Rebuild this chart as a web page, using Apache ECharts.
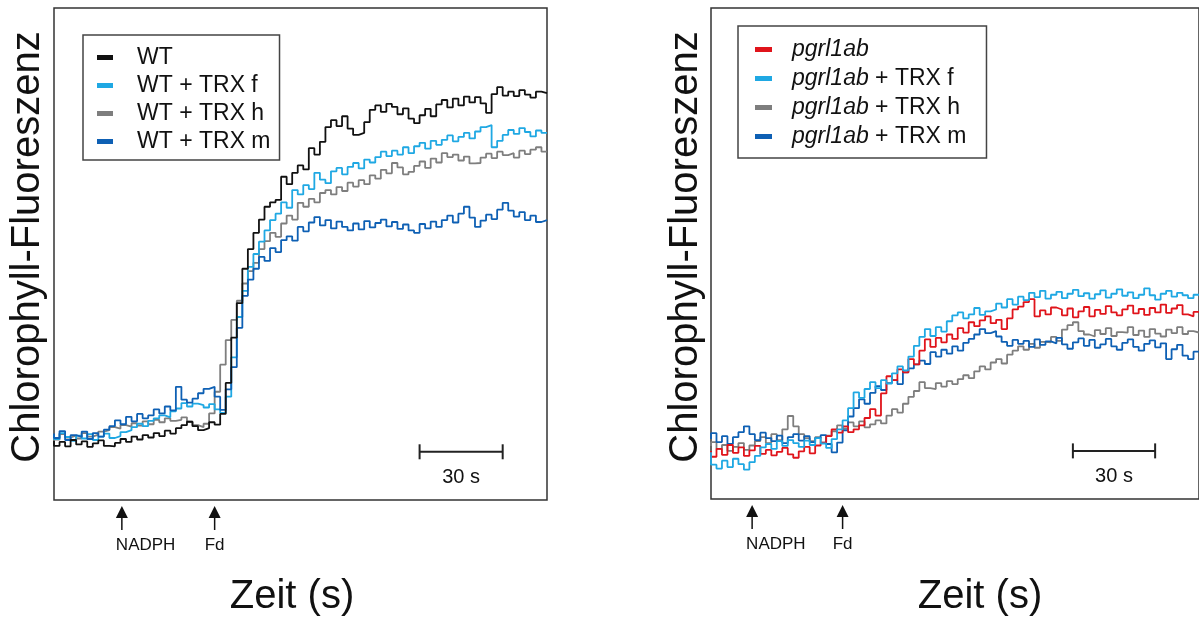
<!DOCTYPE html>
<html>
<head>
<meta charset="utf-8">
<script src="https://cdn.jsdelivr.net/npm/echarts@6/dist/echarts.min.js"></script>
<style>
html,body{margin:0;padding:0;background:#fff;}
#chart{width:1199px;height:621px;}
</style>
</head>
<body>
<div id="chart"></div>
<script>
// time (s), sampled every 2 s
const times = [0,2,4,6,8,10,12,14,16,18,20,22,24,26,28,30,32,34,36,38,40,42,44,46,48,50,52,54,56,58,60,62,64,66,68,70,72,74,76,78,80,82,84,86,88,90,92,94,96,98,100,102,104,106,108,110,112,114,116,118,120,122,124,126,128,130,132,134,136,138,140,142,144,146,148,150,152,154,156,158,160,162,164,166,168,170,172,174,176,178];

// left panel (relative fluorescence, a.u.)
const wt = [12.0,11.0,11.8,10.9,12.2,11.3,11.9,10.8,11.5,12.1,11.0,10.9,11.6,
  12.4,11.8,12.9,12.3,13.2,12.7,13.6,13.0,14.1,13.5,14.6,
  15.2,15.9,15.0,14.2,14.6,15.8,15.3,
  17.5,23.8,33.0,40.0,47.0,51.0,54.3,57.0,59.6,60.5,61.0,65.7,64.2,66.5,68.0,67.2,71.5,70.2,72.8,75.8,77.2,76.0,78.0,75.5,74.2,74.6,76.8,79.3,80.2,78.9,80.5,79.9,78.4,79.6,77.5,76.6,78.2,79.5,78.0,80.4,81.3,79.8,81.6,80.2,82.0,80.8,81.9,80.6,78.7,82.5,83.9,82.2,83.0,82.1,83.3,82.4,81.8,83.0,82.7];
const wtTrxF = [13.2,12.4,13.6,12.8,12.0,13.1,12.5,13.4,12.2,12.9,13.5,12.6,13.0,13.8,
  14.2,14.8,15.5,15.0,16.1,16.6,17.2,16.8,18.0,18.6,19.7,19.0,19.6,19.3,18.8,19.5,18.4,
  17.7,21.0,29.0,37.2,42.5,47.4,50.0,52.5,54.8,56.9,58.2,60.5,59.4,63.0,62.1,64.0,63.2,66.5,65.1,64.4,66.8,67.5,66.2,67.7,68.5,67.4,69.2,68.6,69.7,70.8,69.9,71.0,70.2,71.7,70.5,71.9,72.6,71.4,73.0,72.2,73.2,74.1,72.9,73.8,74.6,73.5,74.9,75.8,76.2,71.7,73.0,74.2,75.2,74.4,75.6,74.8,73.9,75.1,74.6];
const wtTrxH = [13.0,12.3,13.4,12.7,13.1,12.5,13.6,12.9,13.3,13.9,
  14.2,14.8,14.5,15.2,14.9,15.6,15.1,16.0,15.4,16.3,15.8,16.6,16.1,16.3,
  16.8,15.9,15.2,14.8,15.5,17.6,
  22.0,27.5,32.5,36.6,40.5,44.0,46.5,48.2,51.0,52.6,54.3,53.5,56.2,57.8,57.0,60.4,59.6,61.2,60.5,62.4,63.0,62.1,63.6,62.8,64.5,63.7,65.0,64.2,66.0,65.3,67.1,66.4,68.5,67.6,66.2,66.7,67.9,68.8,67.5,69.4,68.6,70.5,69.7,70.2,69.0,69.8,68.4,68.5,69.6,70.4,69.5,70.8,70.1,70.5,69.6,71.0,70.3,71.2,71.7,70.8];
const wtTrxM = [13.5,12.6,14.0,12.2,13.2,12.8,13.9,12.4,13.6,12.9,14.3,15.0,
  16.2,15.4,16.9,16.0,17.5,16.6,17.2,18.4,17.6,19.0,18.2,23.0,20.4,19.8,20.6,21.7,22.6,23.0,21.0,
  18.3,22.5,27.0,35.0,41.5,44.8,47.0,49.4,48.6,51.2,50.4,52.8,53.6,52.7,55.5,54.6,56.4,57.5,55.8,56.9,55.2,56.6,55.5,54.8,56.2,55.0,56.7,55.4,56.3,57.0,55.6,56.5,55.1,56.0,54.8,54.3,56.1,55.2,56.6,55.5,56.9,57.8,56.4,58.2,59.6,57.4,55.5,56.8,58.0,57.1,59.0,60.4,58.8,57.6,58.5,56.9,57.8,56.5,56.9];

// right panel
const pg = [9.8,8.6,10.2,9.0,11.0,9.4,10.5,8.8,9.9,10.8,9.2,10.0,8.9,9.6,10.4,9.1,8.4,9.7,10.6,9.3,10.9,11.5,12.8,
  14.2,13.5,14.8,13.6,14.2,15.0,16.5,18.3,
  17.0,21.5,25.0,24.2,26.4,25.8,28.5,27.4,30.2,32.5,31.0,32.8,31.9,33.5,32.6,34.8,33.9,36.0,35.2,36.4,37.2,35.8,36.5,34.6,36.8,38.6,39.2,40.1,40.7,37.2,38.4,37.6,39.0,38.6,37.4,38.8,37.0,38.2,39.1,37.2,38.5,37.7,39.3,38.0,37.4,38.6,39.4,37.8,38.7,37.5,38.9,38.0,39.6,37.9,38.8,39.5,37.6,37.2,38.1];
const pgTrxF = [9.5,7.0,6.2,7.8,6.5,8.2,7.1,6.0,7.5,8.8,
  10.5,11.2,10.2,11.8,10.8,12.0,11.4,10.6,11.9,11.0,12.4,11.3,10.4,12.2,
  14.2,16.0,18.5,21.7,20.6,22.4,23.8,
  22.6,24.2,23.5,25.6,27.0,26.2,29.0,31.2,33.0,34.6,33.2,35.0,34.1,36.2,37.4,38.0,36.8,37.6,38.9,37.5,38.2,38.6,39.8,39.0,40.7,39.6,41.2,40.5,42.0,41.1,42.4,40.8,41.6,42.2,40.9,41.8,42.6,41.3,41.9,40.8,41.7,42.5,41.0,41.8,42.7,41.4,42.1,40.9,41.6,42.9,41.5,40.6,41.8,42.4,41.2,42.0,41.5,40.9,41.6];
const pgTrxH = [10.8,11.6,10.2,11.0,9.8,10.6,11.4,10.0,10.9,11.8,12.6,11.4,13.2,12.0,
  14.2,16.9,14.8,13.2,
  12.4,11.8,12.6,11.5,12.9,13.8,
  15.0,14.4,15.6,14.8,15.8,14.6,15.2,16.0,15.4,17.0,
  18.3,17.6,19.4,20.8,22.0,23.8,22.6,22.4,23.6,22.9,24.0,23.4,24.4,25.2,24.6,26.0,27.0,26.4,27.8,28.5,27.6,29.4,30.2,31.1,30.4,31.6,30.8,32.0,31.9,33.0,32.2,34.5,35.4,36.0,34.2,33.5,33.1,34.4,33.6,34.8,33.2,34.0,33.9,35.0,33.4,34.3,33.0,34.6,33.7,33.1,34.5,33.8,35.0,33.6,34.2,33.9];
const pgTrxM = [12.2,13.4,11.6,12.8,11.2,12.6,13.6,14.8,13.2,12.0,13.5,12.4,
  11.8,12.9,11.4,12.6,13.2,11.9,12.8,11.6,12.4,13.0,11.2,9.5,
  11.5,14.0,16.8,18.5,20.3,19.4,21.6,
  23.0,22.2,23.6,24.2,23.4,25.8,26.6,27.4,28.2,27.5,29.9,29.0,30.4,29.6,31.1,30.2,31.8,32.6,33.5,34.6,33.8,34.2,33.1,32.0,31.2,32.4,31.6,32.2,31.0,32.5,31.4,32.1,31.7,32.8,31.5,30.6,31.9,32.7,31.2,32.4,30.8,31.5,32.6,31.1,30.4,31.8,32.5,31.0,30.2,31.6,32.3,30.9,31.7,28.5,30.5,31.4,29.2,28.5,30.0];

// annotations (time in s)
const leftEvents = [{name:'NADPH', t:24.5}, {name:'Fd', t:58}];
const rightEvents = [{name:'NADPH', t:15}, {name:'Fd', t:48}];
const scaleBar = [132, 162];   // 30 s
const scaleBarLevel = 9.8;
const scaleLabelLevel = 4.7;

const leftNames = ['WT','WT + TRX f','WT + TRX h','WT + TRX m'];
const rightNames = ['pgrl1ab','pgrl1ab + TRX f','pgrl1ab + TRX h','pgrl1ab + TRX m'];

const C = {black:'#111111', light:'#1FA8E3', gray:'#7E7E7E', dark:'#0E60B4', red:'#E0141B'};
const FONT = '"Liberation Sans", Arial, Helvetica, sans-serif';

function pts(vals){ return times.map((t,i)=>[t, vals[i]]); }
function trace(name, vals, color, idx){
  return {name, type:'line', xAxisIndex:idx, yAxisIndex:idx, data:pts(vals), step:'start',
    showSymbol:false, symbol:'none', silent:true, animation:false,
    lineStyle:{color, width:1.8}, itemStyle:{color}};
}
function bar(idx){
  return {type:'line', xAxisIndex:idx, yAxisIndex:idx, silent:true, animation:false,
    data:[[scaleBar[0], scaleBarLevel],[scaleBar[1], scaleBarLevel]],
    symbol:'rect', symbolSize:[2,15], showSymbol:true,
    lineStyle:{color:'#222', width:2}, itemStyle:{color:'#222'}};
}

const chart = echarts.init(document.getElementById('chart'), null, {renderer:'canvas'});
const option = {
  animation:false,
  backgroundColor:'#fff',
  textStyle:{fontFamily:FONT},
  grid:[
    {left:54, top:8, width:493, height:492, show:true, borderColor:'#333', borderWidth:1.5, backgroundColor:'transparent'},
    {left:711, top:8, width:493, height:491, show:true, borderColor:'#333', borderWidth:1.5, backgroundColor:'transparent'}
  ],
  xAxis:[
    {type:'value', gridIndex:0, min:0, max:178, show:false},
    {type:'value', gridIndex:1, min:0, max:178, show:false}
  ],
  yAxis:[
    {type:'value', gridIndex:0, min:0, max:100, show:false},
    {type:'value', gridIndex:1, min:0, max:100, show:false}
  ],
  legend:[
    {data:leftNames, orient:'vertical', left:83, top:35, selectedMode:false,
     icon:'rect', itemWidth:16, itemHeight:5, itemGap:5,
     padding:[11,9,7,14], borderColor:'#444', borderWidth:1.5,
     textStyle:{fontFamily:FONT, fontSize:23, color:'#111', lineHeight:23, padding:[0,0,0,19]}},
    {data:rightNames, orient:'vertical', left:738, top:26, selectedMode:false,
     icon:'rect', itemWidth:17, itemHeight:5, itemGap:6,
     padding:[12,20,10,17], borderColor:'#444', borderWidth:1.5,
     formatter:function(n){ const rest = n.slice(7); return '{i|pgrl1ab}' + (rest ? '{n|' + rest + '}' : ''); },
     textStyle:{fontFamily:FONT, fontSize:23, color:'#111', lineHeight:23, padding:[0,0,0,15],
       rich:{i:{fontFamily:FONT, fontSize:23, fontStyle:'italic', color:'#111'}, n:{fontFamily:FONT, fontSize:23, color:'#111'}}}}
  ],
  series:[
    trace('WT + TRX h', wtTrxH, C.gray, 0),
    trace('WT + TRX f', wtTrxF, C.light, 0),
    trace('WT + TRX m', wtTrxM, C.dark, 0),
    trace('WT', wt, C.black, 0),
    bar(0),
    trace('pgrl1ab + TRX h', pgTrxH, C.gray, 1),
    trace('pgrl1ab + TRX m', pgTrxM, C.dark, 1),
    trace('pgrl1ab', pg, C.red, 1),
    trace('pgrl1ab + TRX f', pgTrxF, C.light, 1),
    bar(1)
  ]
};
chart.setOption(option);

// annotations positioned through the axes
const g = [];
function addPanel(gi, events){
  const base = chart.convertToPixel({gridIndex:gi}, [0, 0]);
  const yb = base[1];
  events.forEach(function(ev){
    const x = chart.convertToPixel({gridIndex:gi}, [ev.t, 0])[0];
    g.push({type:'polygon', silent:true, shape:{points:[[x, yb+6],[x-6, yb+18],[x+6, yb+18]]}, style:{fill:'#111'}});
    g.push({type:'line', silent:true, shape:{x1:x, y1:yb+17, x2:x, y2:yb+30}, style:{stroke:'#111', lineWidth:1.5}});
    const isLong = ev.name.length > 2;
    g.push({type:'text', silent:true, x: isLong ? x-6 : x, y: yb+45,
      style:{text:ev.name, fontFamily:FONT, fontSize:17, fill:'#111', align: isLong ? 'left' : 'center', verticalAlign:'middle'}});
  });
  const lp = chart.convertToPixel({gridIndex:gi}, [(scaleBar[0]+scaleBar[1])/2, scaleLabelLevel]);
  g.push({type:'text', silent:true, x:lp[0], y:lp[1]+1,
    style:{text:'30 s', fontFamily:FONT, fontSize:20, fill:'#111', align:'center', verticalAlign:'middle'}});
}
addPanel(0, leftEvents);
addPanel(1, rightEvents);

// axis titles
g.push({type:'text', silent:true, x:28, y:247, rotation:Math.PI/2,
  style:{text:'Chlorophyll-Fluoreszenz', fontFamily:FONT, fontSize:40, fill:'#111', align:'center', verticalAlign:'middle'}});
g.push({type:'text', silent:true, x:686, y:247, rotation:Math.PI/2,
  style:{text:'Chlorophyll-Fluoreszenz', fontFamily:FONT, fontSize:40, fill:'#111', align:'center', verticalAlign:'middle'}});
g.push({type:'text', silent:true, x:292, y:597,
  style:{text:'Zeit (s)', fontFamily:FONT, fontSize:40, fill:'#111', align:'center', verticalAlign:'middle'}});
g.push({type:'text', silent:true, x:980, y:597,
  style:{text:'Zeit (s)', fontFamily:FONT, fontSize:40, fill:'#111', align:'center', verticalAlign:'middle'}});

chart.setOption({graphic:{elements:g}});
</script>
</body>
</html>
